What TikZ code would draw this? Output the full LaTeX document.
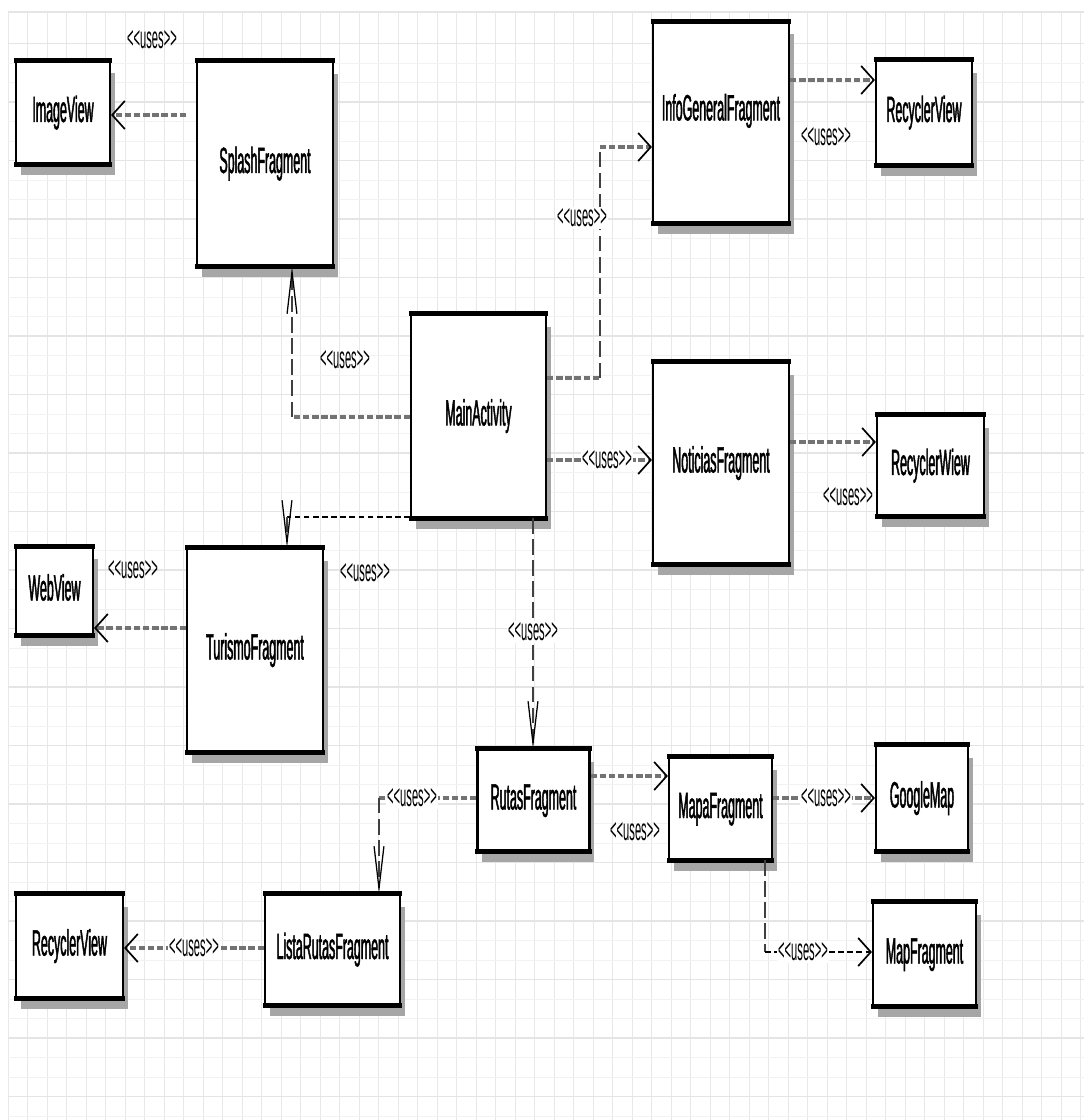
\documentclass[tikz,border=0pt]{standalone}
\usepackage{fontspec}
\setmainfont{Liberation Sans}[FakeStretch=0.34, FakeBold=1.2]
\newfontfamily\lblfont{Liberation Sans}[FakeStretch=0.36]
\usetikzlibrary{arrows.meta,shadows}
\newcommand{\usesl}{<\kern0pt<uses>\kern0pt>}

\begin{document}
\begin{tikzpicture}[x=0.025cm, y=-0.025cm,
    cls/.style={draw, line width=1.5pt, fill=white, inner sep=0pt,
      text height=19pt, text depth=5.5pt, font=\fontsize{26}{29}\selectfont,
      drop shadow={shadow xshift=3.5pt, shadow yshift=-8.5pt, fill=black!35, opacity=1},
      append after command={
        (\tikzlastnode.north west) edge[line width=3.6pt, shorten <=-0.75pt, shorten >=-0.75pt] (\tikzlastnode.north east)
        (\tikzlastnode.south west) edge[line width=3.6pt, shorten <=-0.75pt, shorten >=-0.75pt] (\tikzlastnode.south east)}},
    lbl/.style={font=\lblfont\fontsize{22}{24}\selectfont, inner sep=1pt},
    hdash/.style={draw=black!55, line width=2.8pt, dash pattern=on 4.5pt off 2pt},
    hthin/.style={draw=black, line width=1.2pt, dash pattern=on 4pt off 2.5pt},
    vdash/.style={draw=black!75, line width=0.9pt, dash pattern=on 11pt off 4pt},
    htip/.style={-{Straight Barb[length=9pt, width=20pt, line width=1.2pt, color=black]}},
    vtip/.style={-{Straight Barb[length=30pt, width=7pt, line width=0.9pt, color=black]}},
    gridv/.style={black!9, line width=0.4pt},
    gridh/.style={black!5, line width=0.4pt},
    gridmaj/.style={black!10, line width=1.3pt}]
    \useasboundingbox (0,0) rectangle (1084,1120);
    % grid
    \fill[white] (0,0) rectangle (1084,1120);
    \foreach \gx in {8,27.5,...,1084} \draw[gridv] (\gx,12) -- (\gx,1120);
    \foreach \gy in {43.5,63,...,1120} \draw[gridh] (8,\gy) -- (1084,\gy);
    \foreach \gy in {43.5,102,...,1120} \draw[gridmaj] (8,\gy) -- (1084,\gy);
    \draw[gridmaj] (8,12) -- (1084,12);
    % classes
    \node[cls, minimum width=2.35cm, minimum height=2.55cm] (imgv) at (63,112.5) {ImageView};
    \node[cls, minimum width=3.4cm, minimum height=5.075cm] (splash) at (265,163.5) {SplashFragment};
    \node[cls, minimum width=3.4cm, minimum height=5cm, text depth=21pt, text height=18pt] (info) at (721,122.5) {InfoGeneralFragment};
    \node[cls, minimum width=2.4cm, minimum height=2.575cm] (recyA) at (924,112.5) {RecyclerView};
    \node[cls, minimum width=3.375cm, minimum height=5.05cm] (main) at (478.5,416) {MainActivity};
    \node[cls, minimum width=3.4cm, minimum height=5cm] (noti) at (721,463) {NoticiasFragment};
    \node[cls, minimum width=2.675cm, minimum height=2.475cm] (recyB) at (930.5,465.5) {RecyclerWiew};
    \node[cls, minimum width=1.925cm, minimum height=2.175cm] (webv) at (54.5,591) {WebView};
    \node[cls, minimum width=3.4cm, minimum height=5.05cm] (turismo) at (255,650) {TurismoFragment};
    \node[cls, minimum width=2.8cm, minimum height=2.5cm] (rutas) at (533.5,800) {RutasFragment};
    \node[cls, minimum width=2.575cm, minimum height=2.525cm] (mapa) at (720.5,808.5) {MapaFragment};
    \node[cls, minimum width=2.3cm, minimum height=2.6cm] (gmap) at (922,798) {GoogleMap};
    \node[cls, minimum width=2.675cm, minimum height=2.55cm] (recyC) at (69.5,946) {RecyclerView};
    \node[cls, minimum width=3.375cm, minimum height=2.725cm] (lista) at (332.5,949.5) {ListaRutasFragment};
    \node[cls, minimum width=2.575cm, minimum height=2.55cm] (mapf) at (924.5,954) {MapFragment};
    % bends
    \coordinate (k2) at (292,417);
    \coordinate (k3a) at (600,378);
    \coordinate (k3b) at (600,147);
    \coordinate (k7) at (287,517);
    \coordinate (k11) at (379,798);
    \coordinate (k13) at (765,952);
    % dependencies
    \draw[hdash, htip, shorten <=7pt] (splash.west |- 0,115) -- (imgv.east |- 0,115);
    \node[lbl] (u1) at (152,40) {\usesl};
    \draw[hdash] (main.west |- k2) -- (k2);
    \draw[vdash, vtip] (k2) -- (k2 |- splash.south);
    \node[lbl] (u2) at (345,360) {\usesl};
    \draw[hdash] (main.east |- k3a) -- (k3a);
    \draw[vdash] (k3a) -- (k3b);
    \draw[hdash, htip] (k3b) -- (info.west |- k3b);
    \node[lbl, fill=white] (u3) at (582,218) {\usesl};
    \draw[hdash, htip] (info.east |- 0,80) -- (recyA.west |- 0,80);
    \node[lbl] (u4) at (826,137) {\usesl};
    \draw[hdash, htip] (main.east |- 0,460) -- (noti.west |- 0,460);
    \node[lbl, fill=white] (u5) at (607,460) {\usesl};
    \draw[hdash, htip] (noti.east |- 0,442) -- (recyB.west |- 0,442);
    \node[lbl] (u6) at (848,497) {\usesl};
    \draw[hthin] (main.west |- k7) -- (k7);
    \draw[vdash, vtip] (k7) -- (k7 |- turismo.north);
    \node[lbl] (u7) at (365,573) {\usesl};
    \draw[hdash, htip] (turismo.west |- 0,628) -- (webv.east |- 0,628);
    \node[lbl] (u8) at (133,570) {\usesl};
    \draw[vdash, vtip] (main.south -| 533,0) -- (rutas.north -| 533,0);
    \node[lbl, fill=white] (u9) at (533,632) {\usesl};
    \draw[hdash, htip] (rutas.east |- 0,776) -- (mapa.west |- 0,776);
    \node[lbl] (u10) at (635,832) {\usesl};
    \draw[hdash] (rutas.west |- k11) -- (k11);
    \draw[vdash, vtip] (k11) -- (k11 |- lista.north);
    \node[lbl, fill=white] (u11) at (412,798) {\usesl};
    \draw[hdash, htip] (mapa.east |- 0,798) -- (gmap.west |- 0,798);
    \node[lbl, fill=white] (u12) at (826,798) {\usesl};
    \draw[vdash] (mapa.south -| k13) -- (k13);
    \draw[hthin, htip] (k13) -- (mapf.west |- k13);
    \node[lbl, fill=white] (u13) at (803,952) {\usesl};
    \draw[hdash, htip] (lista.west |- 0,948) -- (recyC.east |- 0,948);
    \node[lbl, fill=white] (u14) at (194,948) {\usesl};
\end{tikzpicture}
\end{document}
